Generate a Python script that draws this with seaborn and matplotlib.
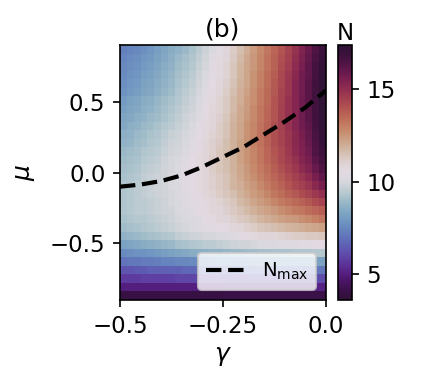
import numpy as np
import matplotlib
matplotlib.use("Agg")
import matplotlib.pyplot as plt
import seaborn as sns

# Rango de los ejes
gamma_lim = [-0.5, 0.0]
mu_lim = [-0.9, 0.9]

# N en una malla 30x30: filas de mu=0.9 (arriba) a mu=-0.9, columnas gamma -0.5 -> 0
N_rows = [
    [7.3, 7.4, 7.5, 7.7, 7.9, 8.1, 8.3, 8.5, 8.7, 8.9, 9.2, 9.5, 9.8, 10.1, 10.4, 10.8, 11.2, 11.6, 12.0, 12.4, 12.8, 13.2, 13.6, 14.0, 14.4, 14.9, 15.4, 15.9, 16.5, 17.0],
    [7.4, 7.6, 7.7, 7.9, 8.0, 8.2, 8.4, 8.6, 8.9, 9.1, 9.3, 9.6, 9.9, 10.3, 10.6, 10.9, 11.3, 11.7, 12.1, 12.5, 12.9, 13.3, 13.7, 14.1, 14.5, 15.0, 15.5, 16.0, 16.6, 17.1],
    [7.5, 7.7, 7.8, 8.0, 8.1, 8.3, 8.5, 8.7, 9.0, 9.2, 9.4, 9.7, 10.0, 10.4, 10.7, 11.0, 11.4, 11.8, 12.2, 12.5, 12.9, 13.3, 13.7, 14.2, 14.6, 15.1, 15.6, 16.1, 16.7, 17.2],
    [7.6, 7.8, 7.9, 8.1, 8.2, 8.4, 8.6, 8.8, 9.1, 9.3, 9.5, 9.8, 10.1, 10.4, 10.7, 11.0, 11.4, 11.8, 12.2, 12.6, 13.0, 13.4, 13.8, 14.3, 14.7, 15.2, 15.7, 16.1, 16.7, 17.3],
    [7.7, 7.9, 8.0, 8.2, 8.3, 8.5, 8.7, 8.9, 9.2, 9.4, 9.6, 9.9, 10.2, 10.5, 10.8, 11.1, 11.5, 11.9, 12.2, 12.6, 13.0, 13.4, 13.9, 14.3, 14.8, 15.3, 15.7, 16.2, 16.8, 17.3],
    [7.8, 8.0, 8.1, 8.3, 8.4, 8.6, 8.8, 9.0, 9.3, 9.5, 9.7, 10.0, 10.3, 10.6, 10.9, 11.2, 11.6, 12.0, 12.3, 12.7, 13.1, 13.5, 13.9, 14.4, 14.8, 15.3, 15.7, 16.2, 16.8, 17.4],
    [8.0, 8.2, 8.3, 8.5, 8.6, 8.8, 9.0, 9.2, 9.4, 9.6, 9.8, 10.1, 10.4, 10.7, 11.0, 11.3, 11.7, 12.0, 12.4, 12.7, 13.1, 13.5, 14.0, 14.4, 14.9, 15.3, 15.8, 16.2, 16.8, 17.4],
    [8.1, 8.3, 8.4, 8.6, 8.7, 8.9, 9.1, 9.3, 9.5, 9.7, 9.9, 10.2, 10.5, 10.8, 11.0, 11.3, 11.7, 12.1, 12.4, 12.8, 13.2, 13.6, 14.0, 14.5, 14.9, 15.3, 15.8, 16.2, 16.8, 17.4],
    [8.3, 8.4, 8.6, 8.7, 8.9, 9.0, 9.2, 9.4, 9.6, 9.8, 10.0, 10.3, 10.6, 10.8, 11.1, 11.4, 11.8, 12.1, 12.5, 12.8, 13.2, 13.6, 14.0, 14.5, 14.9, 15.3, 15.8, 16.2, 16.8, 17.3],
    [8.4, 8.6, 8.7, 8.9, 9.0, 9.2, 9.4, 9.5, 9.7, 9.9, 10.1, 10.4, 10.7, 10.9, 11.2, 11.5, 11.9, 12.2, 12.6, 12.9, 13.3, 13.7, 14.1, 14.5, 14.9, 15.3, 15.7, 16.1, 16.7, 17.3],
    [8.6, 8.7, 8.9, 9.0, 9.2, 9.3, 9.5, 9.7, 9.8, 10.0, 10.2, 10.5, 10.7, 11.0, 11.2, 11.5, 11.9, 12.2, 12.6, 12.9, 13.3, 13.7, 14.1, 14.4, 14.8, 15.2, 15.6, 16.0, 16.6, 17.2],
    [8.7, 8.8, 9.0, 9.1, 9.3, 9.4, 9.6, 9.8, 9.9, 10.1, 10.3, 10.6, 10.8, 11.1, 11.3, 11.6, 11.9, 12.3, 12.6, 13.0, 13.3, 13.7, 14.1, 14.4, 14.8, 15.2, 15.5, 15.9, 16.5, 17.1],
    [8.9, 9.0, 9.1, 9.3, 9.4, 9.5, 9.7, 9.9, 10.0, 10.2, 10.4, 10.6, 10.9, 11.1, 11.4, 11.6, 11.9, 12.3, 12.6, 12.9, 13.2, 13.6, 14.0, 14.3, 14.7, 15.1, 15.4, 15.8, 16.4, 16.9],
    [9.0, 9.1, 9.2, 9.4, 9.5, 9.6, 9.8, 10.0, 10.1, 10.3, 10.5, 10.7, 10.9, 11.2, 11.4, 11.6, 11.9, 12.3, 12.6, 12.9, 13.2, 13.6, 13.9, 14.3, 14.6, 14.9, 15.3, 15.6, 16.2, 16.7],
    [9.1, 9.2, 9.3, 9.5, 9.6, 9.7, 9.9, 10.0, 10.2, 10.4, 10.5, 10.7, 10.9, 11.2, 11.4, 11.6, 11.9, 12.2, 12.5, 12.8, 13.1, 13.4, 13.8, 14.1, 14.4, 14.7, 15.1, 15.4, 15.9, 16.4],
    [9.2, 9.3, 9.4, 9.6, 9.7, 9.8, 9.9, 10.1, 10.2, 10.4, 10.5, 10.7, 10.9, 11.1, 11.3, 11.5, 11.8, 12.1, 12.4, 12.7, 13.0, 13.3, 13.6, 13.9, 14.2, 14.5, 14.8, 15.1, 15.6, 16.1],
    [9.3, 9.4, 9.5, 9.6, 9.7, 9.8, 9.9, 10.1, 10.2, 10.4, 10.5, 10.7, 10.9, 11.1, 11.3, 11.5, 11.8, 12.0, 12.3, 12.5, 12.8, 13.1, 13.4, 13.7, 14.0, 14.3, 14.5, 14.8, 15.2, 15.6],
    [9.3, 9.4, 9.5, 9.6, 9.7, 9.8, 9.9, 10.0, 10.2, 10.3, 10.4, 10.6, 10.8, 11.0, 11.2, 11.4, 11.6, 11.9, 12.1, 12.4, 12.6, 12.9, 13.2, 13.4, 13.7, 13.9, 14.2, 14.4, 14.7, 15.0],
    [9.3, 9.4, 9.5, 9.5, 9.6, 9.7, 9.8, 10.0, 10.1, 10.3, 10.4, 10.6, 10.7, 10.9, 11.0, 11.2, 11.4, 11.7, 11.9, 12.2, 12.4, 12.6, 12.9, 13.1, 13.3, 13.5, 13.7, 13.9, 14.2, 14.4],
    [9.3, 9.4, 9.5, 9.5, 9.6, 9.7, 9.8, 9.9, 10.1, 10.2, 10.3, 10.5, 10.6, 10.8, 10.9, 11.1, 11.3, 11.5, 11.7, 11.9, 12.1, 12.3, 12.5, 12.7, 12.9, 13.1, 13.2, 13.4, 13.6, 13.8],
    [9.2, 9.3, 9.4, 9.4, 9.5, 9.6, 9.7, 9.8, 10.0, 10.1, 10.2, 10.3, 10.5, 10.6, 10.8, 10.9, 11.1, 11.3, 11.4, 11.6, 11.8, 12.0, 12.1, 12.3, 12.4, 12.5, 12.7, 12.8, 13.0, 13.2],
    [9.0, 9.1, 9.2, 9.3, 9.4, 9.5, 9.6, 9.7, 9.9, 10.0, 10.1, 10.2, 10.3, 10.4, 10.5, 10.6, 10.8, 10.9, 11.1, 11.2, 11.4, 11.5, 11.6, 11.7, 11.8, 11.9, 12.0, 12.1, 12.2, 12.3],
    [8.7, 8.8, 8.9, 9.0, 9.1, 9.2, 9.3, 9.4, 9.6, 9.7, 9.8, 9.9, 10.0, 10.0, 10.1, 10.2, 10.3, 10.4, 10.6, 10.7, 10.8, 10.9, 10.9, 11.0, 11.1, 11.2, 11.2, 11.3, 11.3, 11.4],
    [8.2, 8.3, 8.4, 8.5, 8.6, 8.7, 8.8, 8.9, 9.1, 9.2, 9.3, 9.4, 9.5, 9.5, 9.6, 9.7, 9.8, 9.9, 9.9, 10.0, 10.1, 10.2, 10.2, 10.3, 10.3, 10.3, 10.4, 10.4, 10.5, 10.5],
    [7.6, 7.7, 7.8, 7.8, 7.9, 8.0, 8.1, 8.2, 8.3, 8.4, 8.5, 8.6, 8.6, 8.7, 8.7, 8.8, 8.9, 8.9, 9.0, 9.0, 9.1, 9.1, 9.2, 9.2, 9.2, 9.3, 9.3, 9.3, 9.4, 9.4],
    [7.0, 7.1, 7.1, 7.2, 7.2, 7.3, 7.4, 7.4, 7.5, 7.5, 7.6, 7.6, 7.7, 7.7, 7.8, 7.8, 7.8, 7.9, 7.9, 8.0, 8.0, 8.0, 8.1, 8.1, 8.1, 8.1, 8.1, 8.1, 8.2, 8.2],
    [6.3, 6.3, 6.4, 6.4, 6.5, 6.5, 6.5, 6.6, 6.6, 6.7, 6.7, 6.7, 6.8, 6.8, 6.9, 6.9, 6.9, 7.0, 7.0, 7.0, 7.0, 7.0, 7.1, 7.1, 7.1, 7.1, 7.1, 7.1, 7.1, 7.1],
    [5.7, 5.7, 5.7, 5.8, 5.8, 5.8, 5.8, 5.8, 5.9, 5.9, 5.9, 5.9, 6.0, 6.0, 6.0, 6.0, 6.0, 6.0, 6.1, 6.1, 6.1, 6.1, 6.1, 6.1, 6.1, 6.1, 6.1, 6.1, 6.1, 6.1],
    [5.0, 5.0, 5.0, 5.0, 5.0, 5.0, 5.0, 5.0, 5.0, 5.0, 5.0, 5.0, 5.0, 5.0, 5.0, 5.1, 5.1, 5.1, 5.1, 5.1, 5.1, 5.1, 5.1, 5.1, 5.1, 5.1, 5.1, 5.1, 5.1, 5.1],
    [4.0, 4.0, 4.0, 4.0, 4.0, 4.0, 4.0, 4.0, 4.0, 4.0, 4.0, 4.0, 4.0, 4.0, 4.0, 4.1, 4.1, 4.1, 4.1, 4.1, 4.1, 4.1, 4.1, 4.1, 4.1, 4.1, 4.1, 4.1, 4.1, 4.1],
]

# Curva N_max (mu donde N es maximo para cada gamma)
nmax_gamma = [-0.5, -0.45, -0.4, -0.35, -0.3, -0.25, -0.2, -0.15, -0.1, -0.05, 0.0]
nmax_mu = [-0.10, -0.085, -0.06, -0.02, 0.04, 0.11, 0.18, 0.27, 0.36, 0.46, 0.58]

x_ticks = [-0.5, -0.25, 0.0]
x_ticklabels = ["\u22120.5", "\u22120.25", "0.0"]
y_ticks = [0.5, 0.0, -0.5]
y_ticklabels = ["0.5", "0.0", "\u22120.5"]
cbar_ticks = [5, 10, 15]
n_min, n_max = 3.6, 17.4

N = np.array(N_rows)
nrow, ncol = N.shape

# pasar de valores (gamma, mu) a coordenadas de celdas del heatmap
def pos_x(g):
    return (np.asarray(g) - gamma_lim[0]) / (gamma_lim[1] - gamma_lim[0]) * ncol

def pos_y(m):
    return (mu_lim[1] - np.asarray(m)) / (mu_lim[1] - mu_lim[0]) * nrow

fig = plt.figure(figsize=(446 / 150, 389 / 150), dpi=150)
ax = fig.add_axes([0.269, 0.229, 0.462, 0.655])
cax = fig.add_axes([0.758, 0.229, 0.031, 0.655])

sns.heatmap(N, cmap="twilight_shifted", vmin=n_min, vmax=n_max, ax=ax, cbar_ax=cax,
            xticklabels=False, yticklabels=False)

sns.lineplot(x=pos_x(nmax_gamma), y=pos_y(nmax_mu), color="k", linestyle="--",
             lw=2, sort=False, label=r"N$_{\rm max}$", ax=ax)
ax.set_xlim(0, ncol)
ax.set_ylim(nrow, 0)

for s in ax.spines.values():
    s.set_visible(True)
    s.set_linewidth(0.8)

ax.set_xticks(pos_x(x_ticks))
ax.set_xticklabels(x_ticklabels, rotation=0)
ax.set_yticks(pos_y(y_ticks))
ax.set_yticklabels(y_ticklabels, rotation=0)
ax.tick_params(length=3.5, width=0.8, labelsize=11)
ax.set_xlabel(r"$\gamma$", fontsize=12, labelpad=3, visible=True)
ax.set_ylabel(r"$\mu$", fontsize=12, labelpad=6, visible=True)
ax.set_title("(b)", fontsize=12, pad=4)

ax.legend(loc="lower right", fontsize=9.5)

cbar = ax.collections[0].colorbar
cbar.outline.set_visible(True)
cbar.outline.set_linewidth(0.8)
cbar.set_ticks(cbar_ticks)
cbar.ax.tick_params(length=3.5, width=0.8, labelsize=11)
cbar.ax.set_title("N", fontsize=11, pad=2)

plt.savefig("out.png", dpi=150)
